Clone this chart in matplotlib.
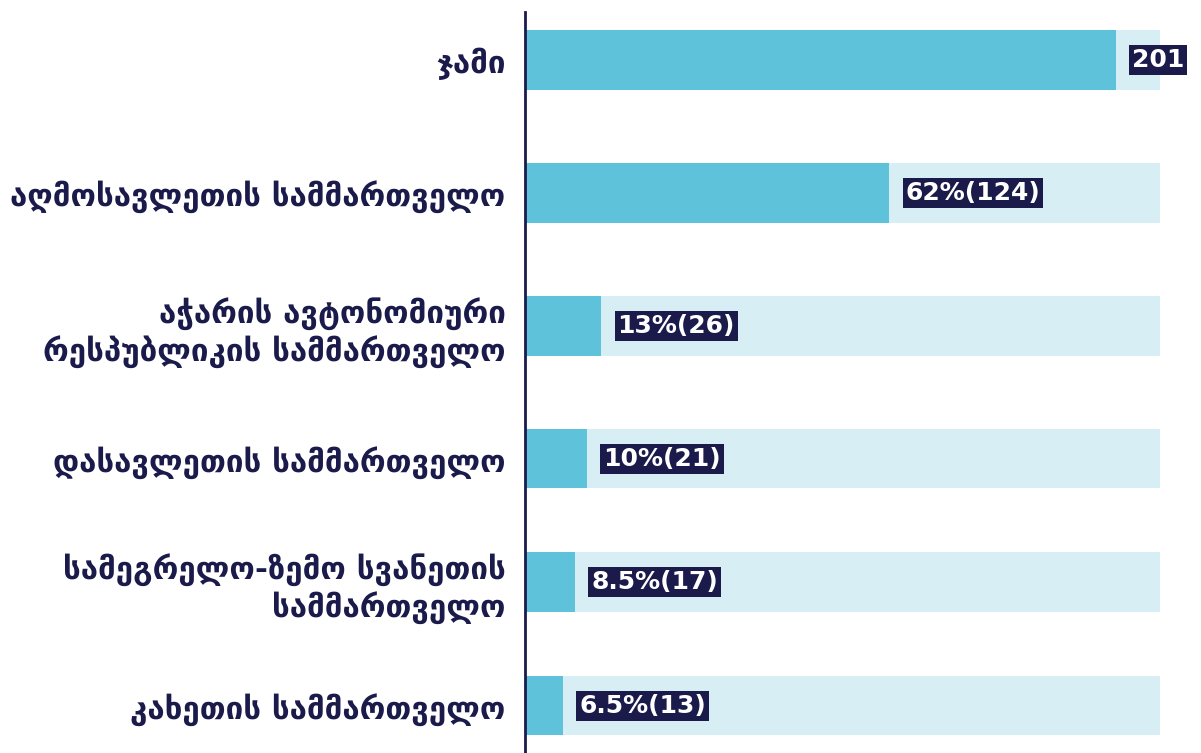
import matplotlib.pyplot as plt

categories = [
    "ჯამი",
    "აღმოსავლეთის სამმართველო",
    "აჭარის ავტონომიური\nრესპუბლიკის სამმართველო",
    "დასავლეთის სამმართველო",
    "სამეგრელო-ზემო სვანეთის\nსამმართველო",
    "კახეთის სამმართველო",
]
counts = [201, 124, 26, 21, 17, 13]
shares = [None, "62", "13", "10", "8.5", "6.5"]
full = 216

navy = "#1a1b4b"
bar_col = "#5fc2db"
bg_col = "#d7eef4"

plt.rcParams['font.family'] = ['DejaVu Sans']

fig = plt.figure(figsize=(12.01, 7.53), dpi=100)
ax = fig.add_axes([525 / 1201, 0, 1 - 525 / 1201, 1 - 12 / 753])

# rows in the original are not quite evenly spaced
ypos = [0, 1, 2, 3, 3.925, 4.857]
ax.barh(ypos, [full] * len(ypos), height=0.444, color=bg_col, zorder=1)
ax.barh(ypos, counts, height=0.444, color=bar_col, zorder=2)

for y, c, s in zip(ypos, counts, shares):
    txt = str(c) if s is None else f"{s}%({c})"
    ax.text(c + 5.5, y, txt, color="white", fontsize=18, fontweight="bold",
            va="center", ha="left", zorder=3,
            bbox=dict(boxstyle="square,pad=0.12", fc=navy, ec="none"))

ax.set_xlim(0, 230)
ax.set_ylim(5.211, -0.361)
ax.set_yticks(ypos)
ax.set_yticklabels(categories, fontsize=22.5, fontweight="bold", color=navy,
                   ha="right", multialignment="right")
ax.tick_params(axis="y", length=0, pad=14)
ax.set_xticks([])
for side in ["top", "right", "bottom"]:
    ax.spines[side].set_visible(False)
ax.spines["left"].set_color(navy)
ax.spines["left"].set_linewidth(2)

fig.savefig("out.png", dpi=100)
